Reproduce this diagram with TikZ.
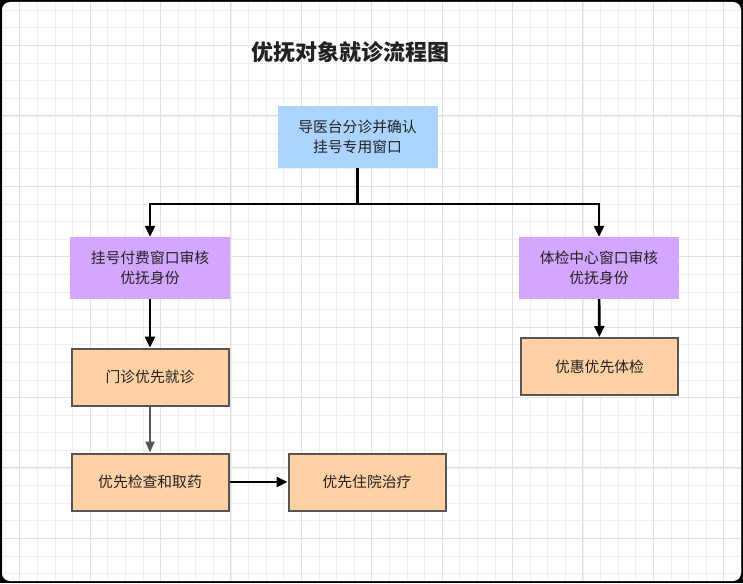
\documentclass[tikz,border=0pt]{standalone}
\usepackage{fontspec}
\setmainfont{Noto Sans CJK SC}
\usetikzlibrary{arrows.meta,positioning}
\usepackage{xcolor}

\definecolor{gridminor}{HTML}{EFEFEF}
\definecolor{gridmajor}{HTML}{E0E0E0}
\definecolor{boxblue}{HTML}{ABD5FF}
\definecolor{boxpurple}{HTML}{D3A6FF}
\definecolor{boxorange}{HTML}{FFD1A4}
\definecolor{boxedge}{HTML}{555555}
\definecolor{txt}{HTML}{222222}

\tikzset{
  box/.style={minimum width=160pt, minimum height=62pt, inner sep=0pt, align=center,
    text=txt, font=\fontsize{14.8}{20}\selectfont},
  bluebox/.style={box, fill=boxblue},
  purplebox/.style={box, fill=boxpurple},
  orangebox/.style={box, fill=boxorange, draw=boxedge, line width=2pt,
    minimum width=157pt, minimum height=57pt},
  conn/.style={line width=2.6pt, black},
  arr/.style={conn, -{Triangle[length=11pt, width=10pt]}},
  greyarr/.style={line width=1.8pt, boxedge, -{Triangle[length=11pt, width=9pt]}}
}

\begin{document}
\begin{tikzpicture}[x=1pt, y=-1pt]
\useasboundingbox (0,0) rectangle (743,583);
% frame and grid
\fill[black] (0,0) rectangle (743,583);
\fill[white, rounded corners=8pt] (2,2) rectangle (741,581);
\begin{scope}
\clip[rounded corners=8pt] (2,2) rectangle (741,581);
\foreach \k in {0,...,42} {
  \pgfmathsetmacro{\xx}{2.1+17.6*\k}
  \draw[gridminor, line width=0.8pt] (\xx,2) -- (\xx,581);
}
\foreach \k in {0,...,33} {
  \pgfmathsetmacro{\yy}{10.3+17.6*\k}
  \draw[gridminor, line width=0.8pt] (2,\yy) -- (741,\yy);
}
\foreach \k in {1,5,...,41} {
  \pgfmathsetmacro{\xx}{2.1+17.6*\k}
  \draw[gridmajor, line width=0.9pt] (\xx,2) -- (\xx,581);
}
\foreach \k in {2,6,...,33} {
  \pgfmathsetmacro{\yy}{10.3+17.6*\k}
  \draw[gridmajor, line width=0.9pt] (2,\yy) -- (741,\yy);
}
\end{scope}

% title
\node[text=txt, font=\fontsize{22}{25}\selectfont\bfseries] (title) at (350,52) {优抚对象就诊流程图};

% boxes
\node[bluebox] (guide) at (357.5,137) {导医台分诊并确认\\挂号专用窗口};
\node[purplebox] (regcheck) at (150,268) {挂号付费窗口审核\\优抚身份};
\node[purplebox] (examcheck) at (599,268) {体检中心窗口审核\\优抚身份};
\node[orangebox] (clinic) at (150,377) {门诊优先就诊};
\node[orangebox] (exam) at (599.5,366.5) {优惠优先体检};
\node[orangebox] (medicine) at (150,482) {优先检查和取药};
\node[orangebox] (hospital) at (367,482) {优先住院治疗};

% connectors
\coordinate (split) at (357.5,204);
\draw[conn] (guide.south) -- (split);
\draw[arr] (split) -| (regcheck.north);
\draw[arr] (split) -| (examcheck.north);
\draw[arr] (regcheck) -- (clinic);
\draw[arr] (examcheck) -- (exam);
\draw[greyarr] (clinic) -- (medicine);
\draw[arr] (medicine) -- (hospital);
\end{tikzpicture}
\end{document}
